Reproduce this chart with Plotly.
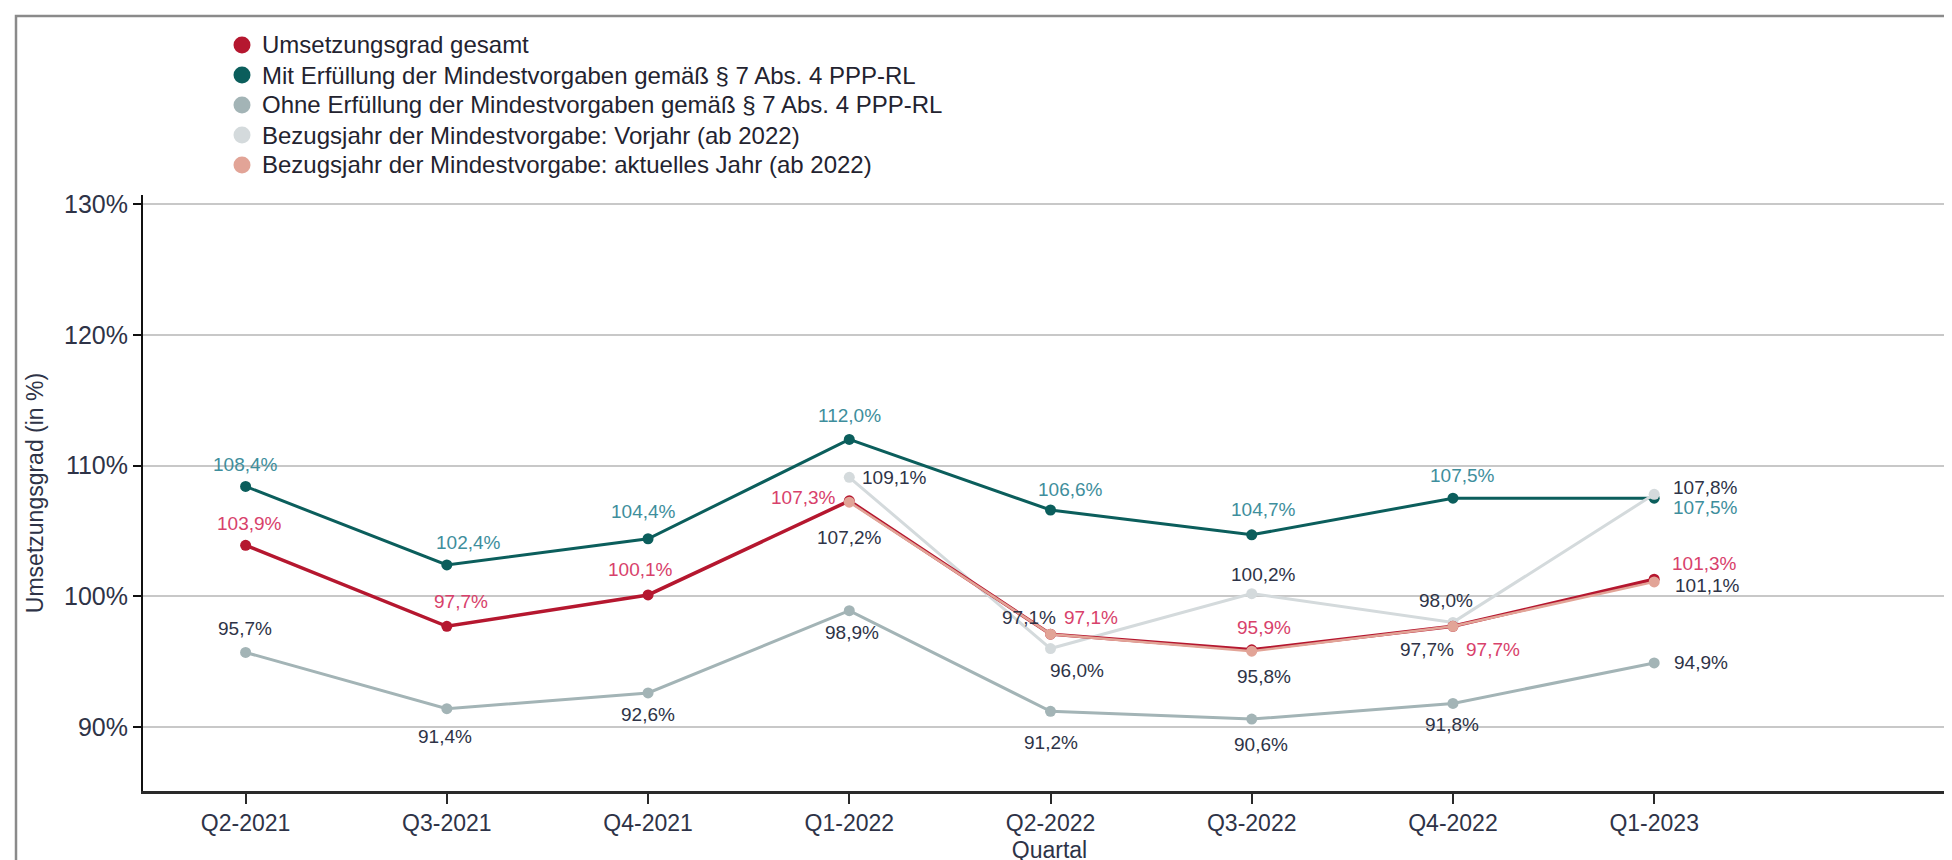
import plotly.graph_objects as go

# ---------------- data ----------------
quarters = ["Q2-2021", "Q3-2021", "Q4-2021", "Q1-2022", "Q2-2022", "Q3-2022", "Q4-2022", "Q1-2023"]
gesamt = [103.9, 97.7, 100.1, 107.3, 97.1, 95.9, 97.7, 101.3]
mit_erfuellung = [108.4, 102.4, 104.4, 112.0, 106.6, 104.7, 107.5, 107.5]
ohne_erfuellung = [95.7, 91.4, 92.6, 98.9, 91.2, 90.6, 91.8, 94.9]
vorjahr = [None, None, None, 109.1, 96.0, 100.2, 98.0, 107.8]
aktuelles_jahr = [None, None, None, 107.2, 97.1, 95.8, 97.7, 101.1]
y_ticks = [90, 100, 110, 120, 130]
y_ticklabels = ["90%", "100%", "110%", "120%", "130%"]

legend_names = [
    "Umsetzungsgrad gesamt",
    "Mit Erfüllung der Mindestvorgaben gemäß § 7 Abs. 4 PPP-RL",
    "Ohne Erfüllung der Mindestvorgaben gemäß § 7 Abs. 4 PPP-RL",
    "Bezugsjahr der Mindestvorgabe: Vorjahr (ab 2022)",
    "Bezugsjahr der Mindestvorgabe: aktuelles Jahr (ab 2022)",
]

# ---------------- styles ----------------
FONT = "Liberation Sans, Arial, sans-serif"
C_RED, C_TEAL, C_GREY, C_LIGHT, C_SALMON = "#b5172f", "#0b5e5c", "#a3b4b6", "#d4dadc", "#e2a497"
L_RED, L_TEAL, L_DARK = "#d8416b", "#3e8e9c", "#2e3347"
legend_colors = [C_RED, C_TEAL, C_GREY, C_LIGHT, C_SALMON]

# figure geometry (pixels)
W, H = 1952, 860
ML, MR, MT, MB = 135, 4, 187, 77
PW, PH = W - ML - MR, H - MT - MB

def px_x(px):
    return (px - ML) / PW

def px_y(py):
    return (H - MB - py) / PH

# label pixel offsets (xshift, yshift) per point
off_gesamt = [(4, 22), (14, 25), (-8, 25), (-46, 3), (40, 17), (12, 22), (40, -23), (50, 16)]
off_mit = [(0, 22), (22, 22), (-5, 27), (0, 24), (20, 20), (12, 25), (10, 23), (51, -9)]
off_ohne = [(-1, 24), (-2, -28), (0, -22), (3, -22), (0, -31), (9, -25), (-1, -21), (47, 0)]
off_vorjahr = [None, None, None, (45, 0), (26, -22), (12, 19), (-7, 22), (51, 7)]
off_aktuell = [None, None, None, (0, -35), (-22, 17), (12, -25), (-26, -23), (53, -4)]

series = [
    # (values, line colour, line width, label colour, offsets)
    (ohne_erfuellung, C_GREY, 3, L_DARK, off_ohne),
    (mit_erfuellung, C_TEAL, 3, L_TEAL, off_mit),
    (vorjahr, C_LIGHT, 3, L_DARK, off_vorjahr),
    (gesamt, C_RED, 3.5, L_RED, off_gesamt),
    (aktuelles_jahr, C_SALMON, 2.5, L_DARK, off_aktuell),
]

fig = go.Figure()
annotations = []
for vals, col, lw, lcol, offs in series:
    fig.add_trace(go.Scatter(
        x=quarters, y=vals, mode="lines+markers",
        line=dict(color=col, width=lw),
        marker=dict(color=col, size=11),
        showlegend=False, hoverinfo="skip", connectgaps=False,
    ))
    for q, v, o in zip(quarters, vals, offs):
        if v is None:
            continue
        annotations.append(dict(
            x=q, y=v, xref="x", yref="y", showarrow=False,
            text=f"{v:.1f}".replace(".", ",") + "%",
            xshift=o[0], yshift=o[1], xanchor="center", yanchor="middle",
            font=dict(family=FONT, size=19, color=lcol),
        ))

# legend (drawn manually to match row spacing)
legend_rows_px = [37, 67, 97, 127, 157]
shapes = []
for name, col, ry in zip(legend_names, legend_colors, legend_rows_px):
    shapes.append(dict(
        type="circle", xref="paper", yref="paper",
        xsizemode="pixel", ysizemode="pixel",
        xanchor=px_x(234), yanchor=px_y(ry),
        x0=-8.5, x1=8.5, y0=-8.5, y1=8.5,
        fillcolor=col, line=dict(width=0),
    ))
    annotations.append(dict(
        x=px_x(252), y=px_y(ry), xref="paper", yref="paper",
        xanchor="left", yanchor="middle", showarrow=False,
        text=name, font=dict(family=FONT, size=24, color="#23232f"),
    ))

# outer frame
shapes.append(dict(
    type="rect", xref="paper", yref="paper",
    x0=px_x(8), x1=px_x(1950), y0=px_y(900), y1=px_y(8),
    line=dict(color="#8a8a8a", width=2.5), layer="above",
))

fig.update_layout(
    width=W, height=H,
    margin=dict(l=ML, r=MR, t=MT, b=MB, autoexpand=False),
    paper_bgcolor="white", plot_bgcolor="white",
    font=dict(family=FONT, color=L_DARK),
    showlegend=False,
    annotations=annotations,
    shapes=shapes,
)

fig.update_xaxes(
    type="category", categoryorder="array", categoryarray=quarters,
    range=[-0.51, 8.5], automargin=False,
    showline=True, linecolor="#2a2a2a", linewidth=2.5,
    ticks="outside", ticklen=10, tickwidth=1.5, tickcolor="#2a2a2a",
    showgrid=False, zeroline=False,
    tickfont=dict(family=FONT, size=23, color=L_DARK),
    title=dict(text="Quartal", font=dict(family=FONT, size=23, color=L_DARK), standoff=7),
)
fig.update_yaxes(
    range=[85.1, 130.7], automargin=False,
    tickvals=y_ticks, ticktext=y_ticklabels,
    showline=True, linecolor="#111", linewidth=2,
    ticks="outside", ticklen=8, tickwidth=1.5, tickcolor="#111",
    showgrid=True, gridcolor="#c8c8c8", gridwidth=1.5, zeroline=False,
    tickfont=dict(family=FONT, size=25, color=L_DARK),
    title=dict(text="Umsetzungsgrad (in %)", font=dict(family=FONT, size=23, color=L_DARK), standoff=14),
)

fig.write_html("out.html")
